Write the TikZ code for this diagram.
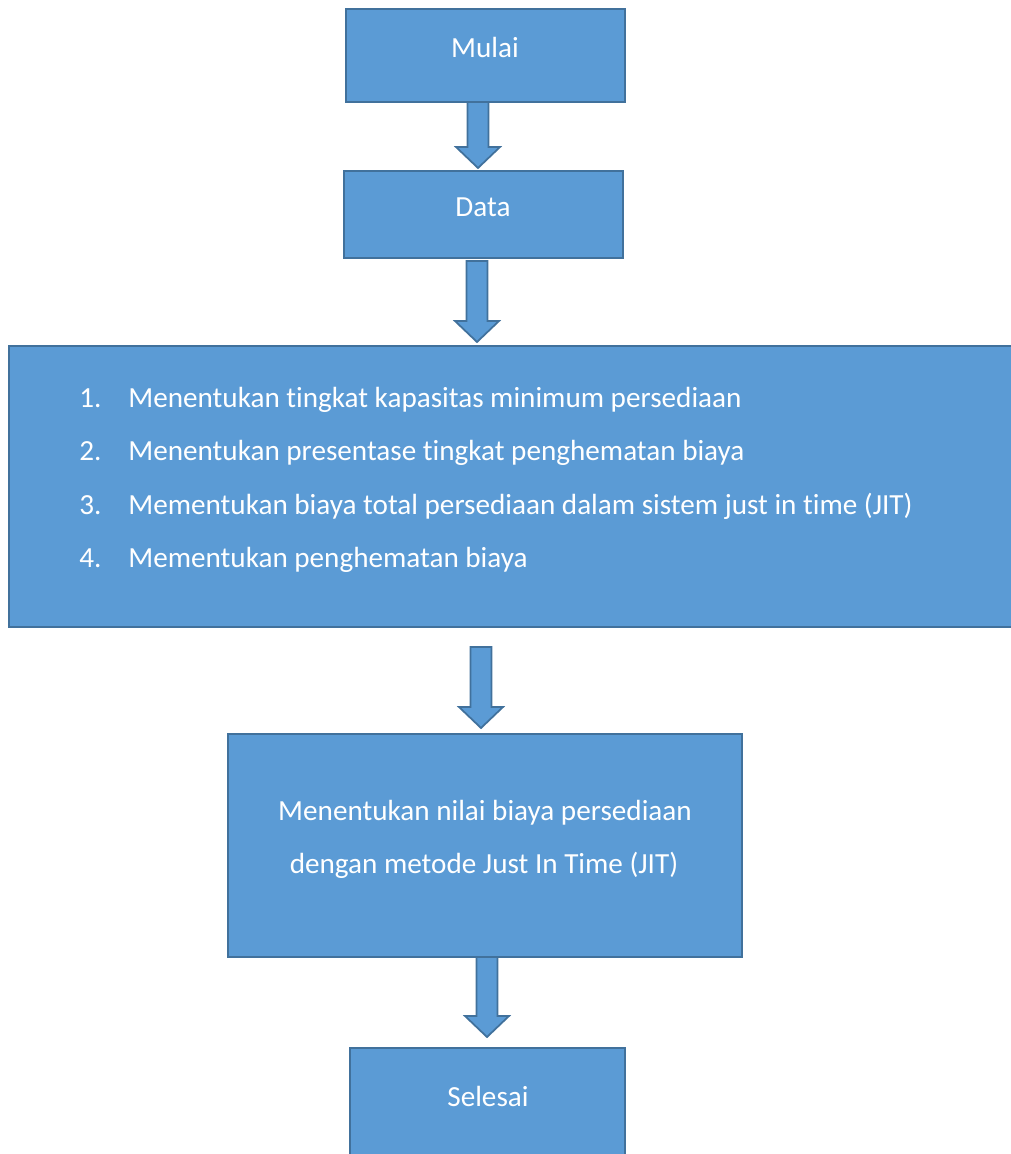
\documentclass[tikz,border=0pt]{standalone}
\usepackage{fontspec}
\setmainfont{Carlito}[Ligatures=CommonOff]
\usetikzlibrary{calc}

\definecolor{boxblue}{HTML}{5B9BD5}
\definecolor{boxedge}{HTML}{41719C}

% block arrow from shaft top (#1) down to tip (#2)
\newcommand{\fatarrow}[2]{%
    \draw[arrow_body] ($(#1)+(-10.5,0)$) -- ($(#2)+(-10.5,-21)$) -- ($(#2)+(-22,-21)$)
        -- (#2) -- ($(#2)+(22,-21)$) -- ($(#2)+(10.5,-21)$) -- ($(#1)+(10.5,0)$) -- cycle;%
}

\begin{document}
\begin{tikzpicture}[
    x=0.02cm, y=-0.02cm,
    % Define styles
    box/.style={
        draw=boxedge, 
        fill=boxblue, 
        line width=1pt, 
        inner sep=0pt, 
        outer sep=0pt
    },
    arrow_body/.style={
        draw=boxedge, 
        fill=boxblue, 
        line width=1pt
    },
    box_text/.style={
        font=\fontsize{16.6}{19}\selectfont, 
        text=white, 
        inner sep=0pt, 
        anchor=base
    },
    list_text/.style={
        box_text, 
        anchor=base west
    }
]
    \useasboundingbox (0,0) rectangle (1011,1154);
    \clip (0,0) rectangle (1011,1154);

    % --- Start and data ---
    \node[box, minimum width=5.58cm, minimum height=1.86cm] (mulai) at (485.5,55.5) {};
    \node[box_text] (mulai_text) at (485,57) {Mulai};

    \node[box, minimum width=5.58cm, minimum height=1.74cm] (data) at (483.5,214.5) {};
    \node[box_text] (data_text) at (483,216) {Data};

    % --- Steps box ---
    \node[box, minimum width=20.12cm, minimum height=5.62cm] (steps) at (512,486.5) {};
    \foreach \num/\y/\txt in {
        1/407/{Menentukan tingkat kapasitas minimum persediaan},
        2/460.7/{Menentukan presentase tingkat penghematan biaya},
        3/514/{Mementukan biaya total persediaan dalam sistem just in time (JIT)},
        4/567.7/{Mementukan penghematan biaya}} {
        \node[list_text] (num\num) at (79,\y) {\num.};
        \node[list_text] (step\num) at (128,\y) {\txt};
    }

    % --- Result and end ---
    \node[box, minimum width=10.28cm, minimum height=4.46cm] (nilai) at (485,845.5) {};
    \node[box_text] (nilai_a) at (485,820) {Menentukan nilai biaya persediaan};
    \node[box_text] (nilai_b) at (484,873) {dengan metode Just In Time (JIT)};

    \node[box, minimum width=5.5cm, minimum height=2.34cm] (selesai) at (487.5,1106.5) {};
    \node[box_text] (selesai_text) at (488,1106) {Selesai};

    % --- Arrows ---
    \coordinate (a1s) at (478,102);
    \coordinate (a1t) at (478,168);
    \coordinate (a2s) at (477,261);
    \coordinate (a2t) at (477,342);
    \coordinate (a3s) at (481,647);
    \coordinate (a3t) at (481,728);
    \coordinate (a4s) at (487,957);
    \coordinate (a4t) at (487,1037);
    \fatarrow{a1s}{a1t}
    \fatarrow{a2s}{a2t}
    \fatarrow{a3s}{a3t}
    \fatarrow{a4s}{a4t}

\end{tikzpicture}
\end{document}
